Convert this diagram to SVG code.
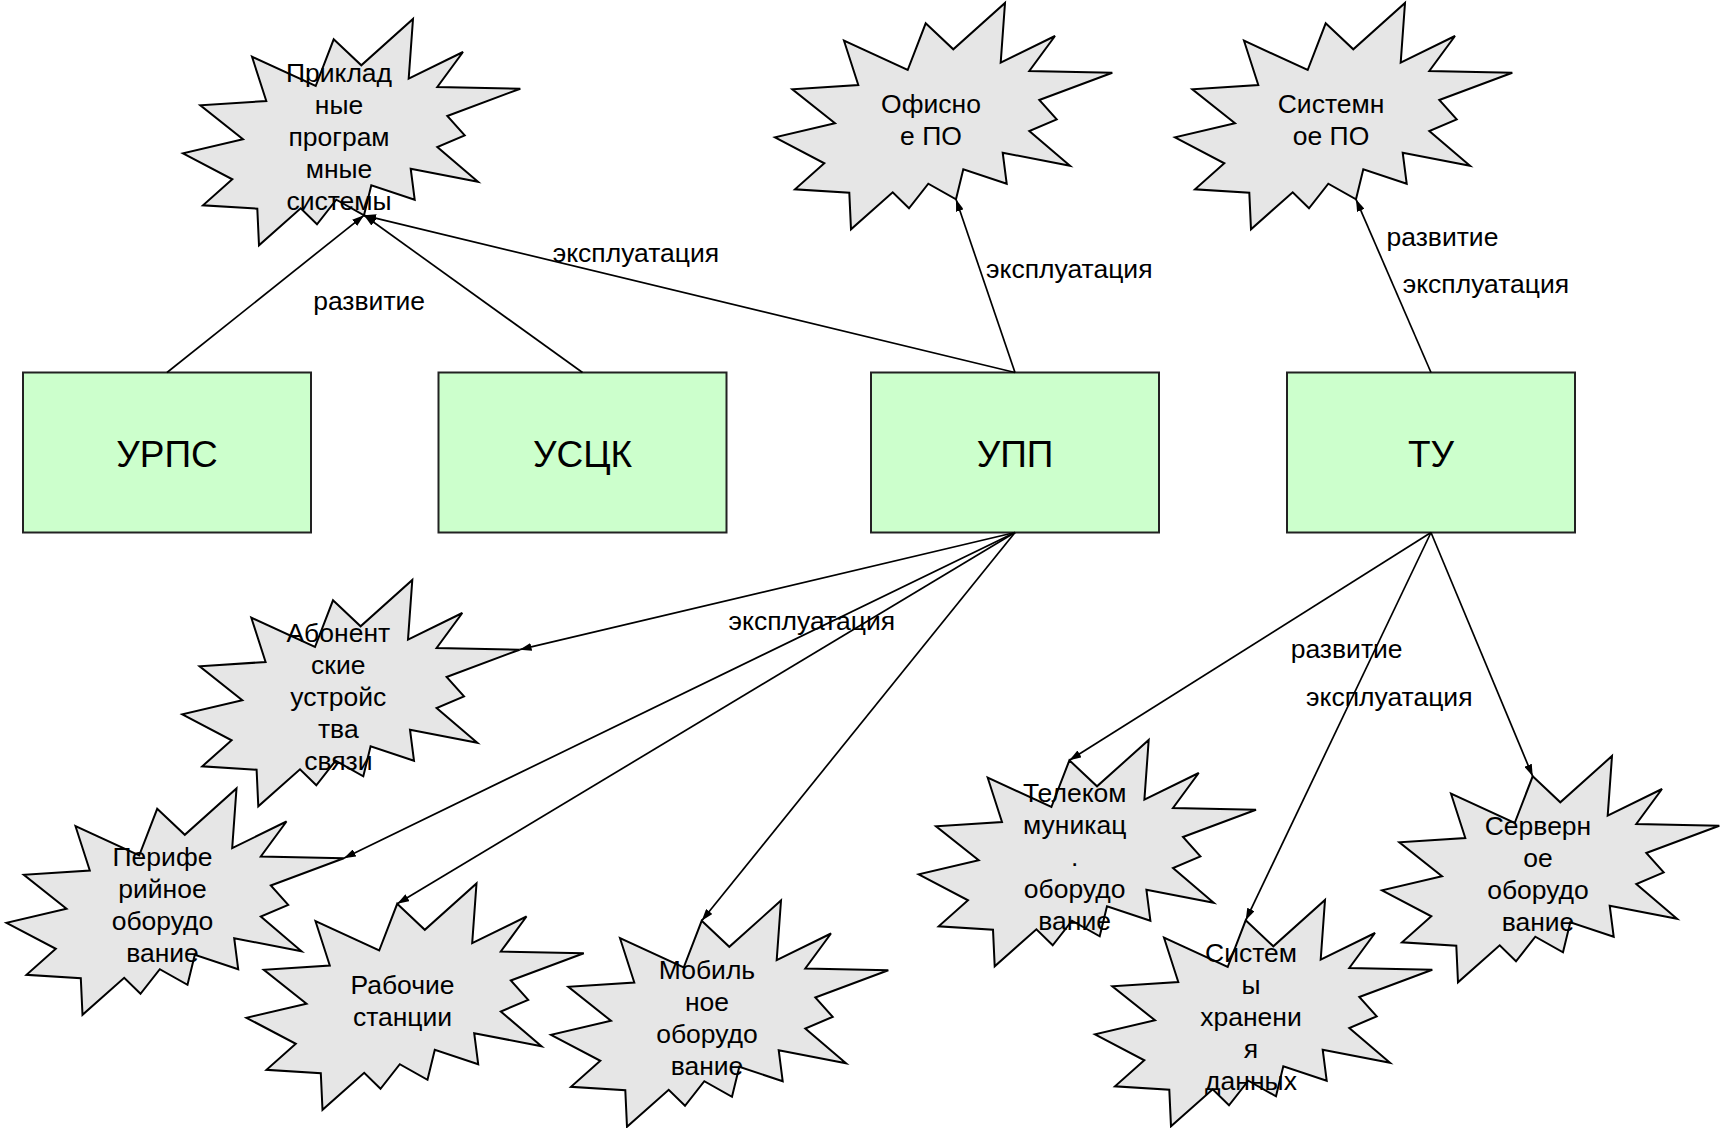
<svg xmlns="http://www.w3.org/2000/svg" xmlns:xlink="http://www.w3.org/1999/xlink" width="1723" height="1128" viewBox="0 0 1723 1128">
<style>
.star{fill:#e6e6e6;stroke:#000;stroke-width:2;stroke-linejoin:miter}
.box{fill:#ccffcc;stroke:#222;stroke-width:2}
.st{font-family:"Liberation Sans",Arial,sans-serif;font-size:26.5px;fill:#000;text-anchor:middle}
.bt{font-family:"Liberation Sans",Arial,sans-serif;font-size:37px;fill:#000;text-anchor:middle}
.lbl{font-family:"Liberation Sans",Arial,sans-serif;font-size:26.5px;fill:#000}
.con{stroke:#000;stroke-width:1.7;fill:none;marker-end:url(#arr)}
</style>
<defs>
<path id="starShape" class="star" d="M230,0 L225.7,59.7 L280,33 L254.3,68 L337.3,69.7 L264.3,97 L281.7,116.3 L254.3,128 L295,162.7 L227.7,149.7 L231.7,180.7 L188.3,166.3 L181,196.3 L153.3,180.7 L134,205.3 L117.7,189.3 L76,226.3 L74.3,189.7 L20,186.3 L49.3,160.3 L0,134.3 L60,120.3 L17.3,86.3 L83.3,82 L69,37.7 L132.7,67 L150.7,20.3 L178.3,46.3 Z"/>
<marker id="arr" viewBox="0 0 12 8" refX="12" refY="4" markerWidth="12" markerHeight="8" markerUnits="userSpaceOnUse" orient="auto">
<path d="M0,0 L12,4 L0,8 Z" fill="#000"/>
</marker>
</defs>
<rect width="1723" height="1128" fill="#fff"/>

<g id="n-prikladnye">
<use xlink:href="#starShape" href="#starShape" x="183" y="19"/>
<text class="st" x="339" y="81.5">Приклад</text>
<text class="st" x="339" y="113.5">ные</text>
<text class="st" x="339" y="145.5">програм</text>
<text class="st" x="339" y="177.5">мные</text>
<text class="st" x="339" y="209.5">системы</text>
</g>
<g id="n-ofisnoe">
<use xlink:href="#starShape" href="#starShape" x="775" y="3"/>
<text class="st" x="931" y="112.5">Офисно</text>
<text class="st" x="931" y="144.5">е ПО</text>
</g>
<g id="n-sistemnoe">
<use xlink:href="#starShape" href="#starShape" x="1175" y="3"/>
<text class="st" x="1331" y="112.5">Системн</text>
<text class="st" x="1331" y="144.5">ое ПО</text>
</g>
<g id="n-abonent">
<use xlink:href="#starShape" href="#starShape" x="182.3" y="580"/>
<text class="st" x="338.3" y="642">Абонент</text>
<text class="st" x="338.3" y="674">ские</text>
<text class="st" x="338.3" y="706">устройс</text>
<text class="st" x="338.3" y="738">тва</text>
<text class="st" x="338.3" y="770">связи</text>
</g>
<g id="n-periferiya">
<use xlink:href="#starShape" href="#starShape" x="6.5" y="788.5"/>
<text class="st" x="162.5" y="866">Перифе</text>
<text class="st" x="162.5" y="898">рийное</text>
<text class="st" x="162.5" y="930">оборудо</text>
<text class="st" x="162.5" y="962">вание</text>
</g>
<g id="n-rabochie">
<use xlink:href="#starShape" href="#starShape" x="246.5" y="883.5"/>
<text class="st" x="402.5" y="994">Рабочие</text>
<text class="st" x="402.5" y="1026">станции</text>
</g>
<g id="n-mobilnoe">
<use xlink:href="#starShape" href="#starShape" x="551" y="900.5"/>
<text class="st" x="707" y="978.5">Мобиль</text>
<text class="st" x="707" y="1010.5">ное</text>
<text class="st" x="707" y="1042.5">оборудо</text>
<text class="st" x="707" y="1074.5">вание</text>
</g>
<g id="n-telekom">
<use xlink:href="#starShape" href="#starShape" x="918.7" y="740"/>
<text class="st" x="1074.7" y="802">Телеком</text>
<text class="st" x="1074.7" y="834">муникац</text>
<text class="st" x="1074.7" y="866">.</text>
<text class="st" x="1074.7" y="898">оборудо</text>
<text class="st" x="1074.7" y="930">вание</text>
</g>
<g id="n-hranenie">
<use xlink:href="#starShape" href="#starShape" x="1095" y="900"/>
<text class="st" x="1251" y="962">Систем</text>
<text class="st" x="1251" y="994">ы</text>
<text class="st" x="1251" y="1026">хранени</text>
<text class="st" x="1251" y="1058">я</text>
<text class="st" x="1251" y="1090">данных</text>
</g>
<g id="n-servernoe">
<use xlink:href="#starShape" href="#starShape" x="1382" y="756"/>
<text class="st" x="1538" y="834.5">Серверн</text>
<text class="st" x="1538" y="866.5">ое</text>
<text class="st" x="1538" y="898.5">оборудо</text>
<text class="st" x="1538" y="930.5">вание</text>
</g>

<g id="n-urps">
<rect class="box" x="23" y="372.5" width="288" height="160"/>
<text class="bt" x="167" y="466.5">УРПС</text>
</g>
<g id="n-usck">
<rect class="box" x="438.5" y="372.5" width="288" height="160"/>
<text class="bt" x="582.5" y="466.5">УСЦК</text>
</g>
<g id="n-upp">
<rect class="box" x="871" y="372.5" width="288" height="160"/>
<text class="bt" x="1015" y="466.5">УПП</text>
</g>
<g id="n-tu">
<rect class="box" x="1287" y="372.5" width="288" height="160"/>
<text class="bt" x="1431" y="466.5">ТУ</text>
</g>

<g id="connectors">
<line class="con" x1="167" y1="372.5" x2="364" y2="215.3"/>
<line class="con" x1="582.5" y1="372.5" x2="364" y2="215.3"/>
<line class="con" x1="1015" y1="372.5" x2="364" y2="215.3"/>
<line class="con" x1="1015" y1="372.5" x2="956" y2="199.3"/>
<line class="con" x1="1431" y1="372.5" x2="1356" y2="199.3"/>
<line class="con" x1="1015" y1="532.5" x2="519.6" y2="649.7"/>
<line class="con" x1="1015" y1="532.5" x2="343.8" y2="858.2"/>
<line class="con" x1="1015" y1="532.5" x2="397.2" y2="903.8"/>
<line class="con" x1="1015" y1="532.5" x2="701.7" y2="920.8"/>
<line class="con" x1="1431" y1="532.5" x2="1069.4" y2="760.3"/>
<line class="con" x1="1431" y1="532.5" x2="1245.7" y2="920.3"/>
<line class="con" x1="1431" y1="532.5" x2="1532.7" y2="776.3"/>
<text class="lbl" x="552.7" y="261.5">эксплуатация</text>
<text class="lbl" x="313.2" y="310">развитие</text>
<text class="lbl" x="986" y="278.3">эксплуатация</text>
<text class="lbl" x="1386.5" y="246">развитие</text>
<text class="lbl" x="1402.7" y="293.3">эксплуатация</text>
<text class="lbl" x="728.6" y="630">эксплуатация</text>
<text class="lbl" x="1290.7" y="658.3">развитие</text>
<text class="lbl" x="1306" y="706">эксплуатация</text>
</g>
</svg>
